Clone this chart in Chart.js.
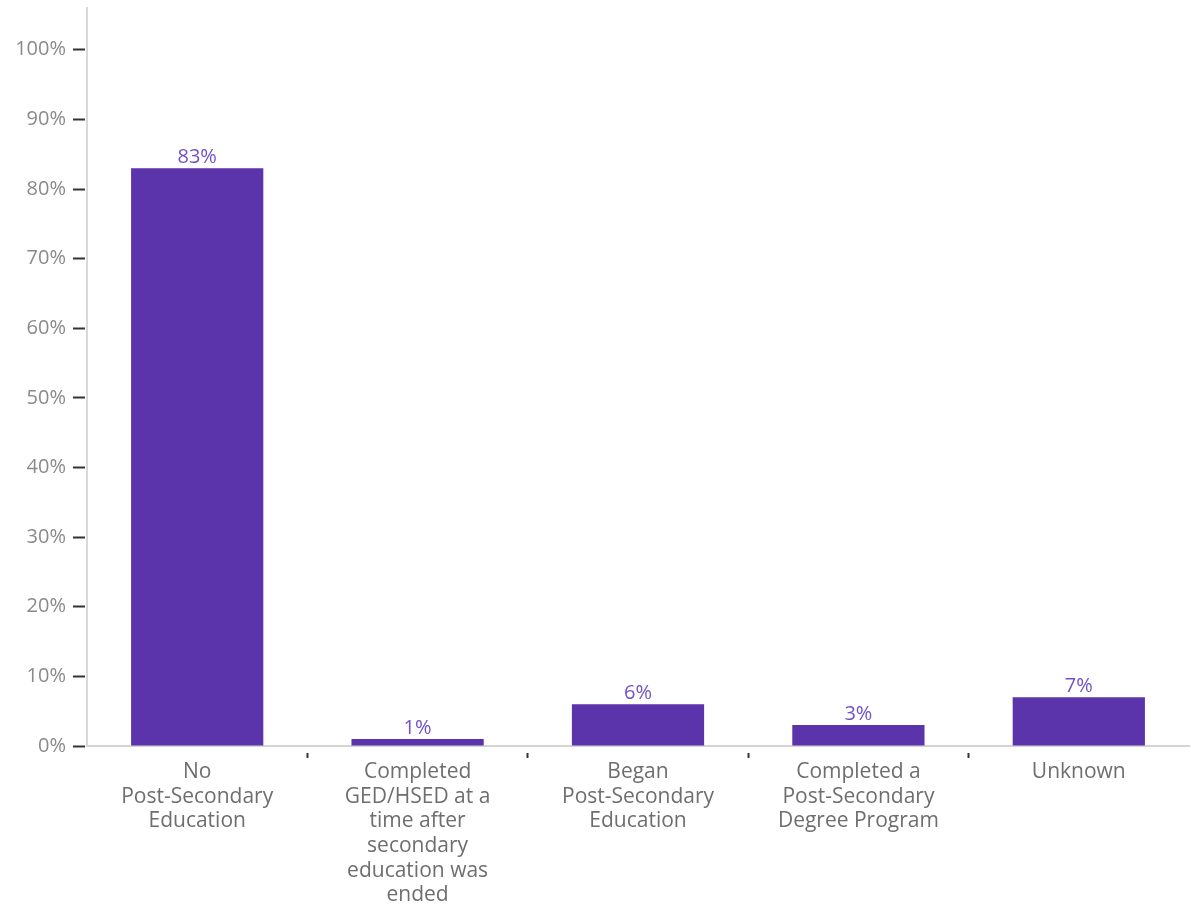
<!DOCTYPE html>
<html>
<head>
<meta charset="utf-8">
<script src="https://cdn.jsdelivr.net/npm/chart.js@4/dist/chart.umd.min.js"></script>
<style>
    html, body { margin: 0; padding: 0; background: #fff; }
    #wrap { width: 1191px; height: 907px; position: relative; }
</style>
</head>
<body>
<div id="wrap"><canvas id="eduChart"></canvas></div>
<script>
// Data
const CATEGORIES = [
    ['No', 'Post-Secondary', 'Education'],
    ['Completed', 'GED/HSED at a', 'time after', 'secondary', 'education was', 'ended'],
    ['Began', 'Post-Secondary', 'Education'],
    ['Completed a', 'Post-Secondary', 'Degree Program'],
    ['Unknown']
];
const PERCENTS = [83, 1, 6, 3, 7];
const Y_TICKS = [0, 10, 20, 30, 40, 50, 60, 70, 80, 90, 100];

const BAR_COLOR = '#5b33aa';
const VALUE_COLOR = '#7152c6';
const FONT = "'Open Sans', 'DejaVu Sans', sans-serif";

// Percent labels above each bar
const valueLabels = {
    id: 'valueLabels',
    afterDatasetsDraw: (chart) => {
        const { ctx } = chart;
        const meta = chart.getDatasetMeta(0);
        ctx.save();
        ctx.fillStyle = VALUE_COLOR;
        ctx.font = `20px ${FONT}`;
        ctx.textAlign = 'center';
        ctx.textBaseline = 'bottom';
        meta.data.forEach((bar, i) => {
            ctx.fillText(PERCENTS[i] + '%', bar.x, bar.y - 1);
        });
        ctx.restore();
    }
};

// Hide the outer boundary ticks on the category axis
function xTickColor(c) {
    if (c.index === undefined || c.index === 0) return 'rgba(0,0,0,0)';
    return '#333';
}

const ctx = document.getElementById('eduChart').getContext('2d');
new Chart(ctx, {
    type: 'bar',
    data: {
        labels: CATEGORIES,
        datasets: [{
            data: PERCENTS,
            backgroundColor: BAR_COLOR,
            borderWidth: 0,
            barPercentage: 0.6,
            categoryPercentage: 1.0
        }]
    },
    options: {
        responsive: true,
        maintainAspectRatio: false,
        animation: false,
        layout: { padding: { top: 8, right: 2, left: 0, bottom: 0 } },
        plugins: {
            legend: { display: false },
            tooltip: { enabled: false }
        },
        scales: {
            x: {
                grid: {
                    offset: true,
                    drawOnChartArea: false,
                    drawTicks: true,
                    tickLength: 12,
                    tickWidth: 2,
                    tickColor: xTickColor,
                    tickBorderDash: [0, 6, 7, 100]
                },
                border: { color: '#d4d4d4', width: 2 },
                ticks: {
                    color: '#6e6e6e',
                    padding: 2,
                    maxRotation: 0,
                    autoSkip: false,
                    font: { family: FONT, size: 21, lineHeight: 1.17 }
                },
                afterFit: (scale) => { scale.height = 161; }
            },
            y: {
                min: 0,
                max: 106,
                grid: {
                    drawOnChartArea: false,
                    drawTicks: true,
                    tickLength: 14,
                    tickWidth: 2,
                    tickColor: '#333',
                    tickBorderDash: [12, 10]
                },
                border: { color: '#d8d8d8', width: 2 },
                ticks: {
                    color: '#8a8a8a',
                    padding: 7,
                    font: { family: FONT, size: 20 },
                    callback: (v) => v + '%'
                },
                afterBuildTicks: (scale) => {
                    scale.ticks = Y_TICKS.map(v => ({ value: v }));
                },
                afterFit: (scale) => {
                    scale.width = 87;
                    scale.paddingTop = 0;
                    scale.paddingBottom = 0;
                }
            }
        }
    },
    plugins: [valueLabels]
});
</script>
</body>
</html>
